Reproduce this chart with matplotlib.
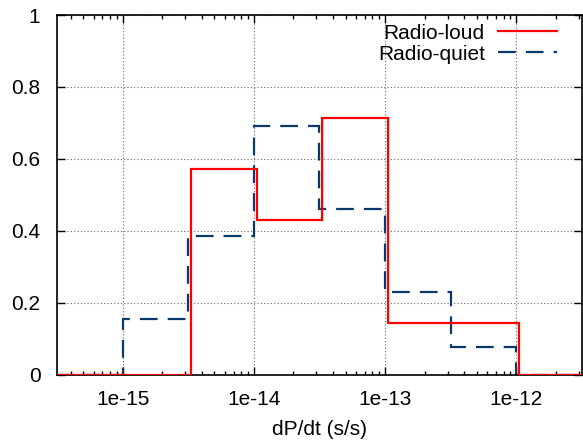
import numpy as np
import matplotlib
matplotlib.use('Agg')
import matplotlib.pyplot as plt
from matplotlib.ticker import LogLocator, FixedLocator

# bin edges as log10(dP/dt), half-decade bins
loud_edges_log = [-15.5, -14.48, -13.98, -13.48, -12.98, -12.48, -11.98, -11.5]
loud_values = [0.0, 0.571, 0.429, 0.714, 0.143, 0.143, 0.0]

quiet_edges_log = [-15.5, -15.0, -14.5, -14.0, -13.5, -13.0, -12.5, -12.0, -11.5]
quiet_values = [0.0, 0.154, 0.385, 0.692, 0.462, 0.231, 0.077, 0.0]

xticks = [1e-15, 1e-14, 1e-13, 1e-12]
xtick_labels = ['1e-15', '1e-14', '1e-13', '1e-12']
yticks = [0, 0.2, 0.4, 0.6, 0.8, 1]
ytick_labels = ['0', '0.2', '0.4', '0.6', '0.8', '1']

plt.rcParams['font.family'] = ['Liberation Sans', 'DejaVu Sans']

fig = plt.figure(figsize=(5.83, 4.42), dpi=100)
ax = fig.add_axes([0.098, 0.152, 0.900, 0.814])

ax.stairs(loud_values, 10 ** np.array(loud_edges_log), color='#ff0000',
          linewidth=1.6, label='Radio-loud', zorder=3)
ax.stairs(quiet_values, 10 ** np.array(quiet_edges_log), color='#0b3a6a',
          linewidth=1.6, linestyle=(0, (8, 4.5)), label='Radio-quiet', zorder=2)

ax.set_xscale('log')
ax.set_xlim(10 ** -15.5, 10 ** -11.5)
ax.set_ylim(0, 1)
ax.set_xticks(xticks)
ax.set_xticklabels(xtick_labels)
ax.xaxis.set_minor_locator(LogLocator(base=10, subs=np.arange(2, 10)))
ax.xaxis.set_minor_formatter(plt.NullFormatter())
ax.yaxis.set_major_locator(FixedLocator(yticks))
ax.set_yticklabels(ytick_labels)

ax.tick_params(which='both', direction='in', top=True, right=True,
               labelsize=15, colors='black', width=1)
ax.tick_params(which='major', length=6)
ax.tick_params(axis='x', which='major', pad=11)
ax.tick_params(axis='y', which='major', pad=12)
ax.tick_params(which='minor', length=3)

ax.grid(True, which='major', linestyle=(0, (1, 2)), color='#666666', linewidth=0.8)
for s in ax.spines.values():
    s.set_linewidth(1.2)

ax.set_xlabel('dP/dt (s/s)', fontsize=15, labelpad=8)

ax.legend(loc='upper right', bbox_to_anchor=(0.952, 0.976), frameon=False,
          markerfirst=False, fontsize=15, handlelength=2.8, handletextpad=0.65,
          borderaxespad=0.0, borderpad=0.0, labelspacing=0.1)

fig.savefig('out.png', dpi=100)
